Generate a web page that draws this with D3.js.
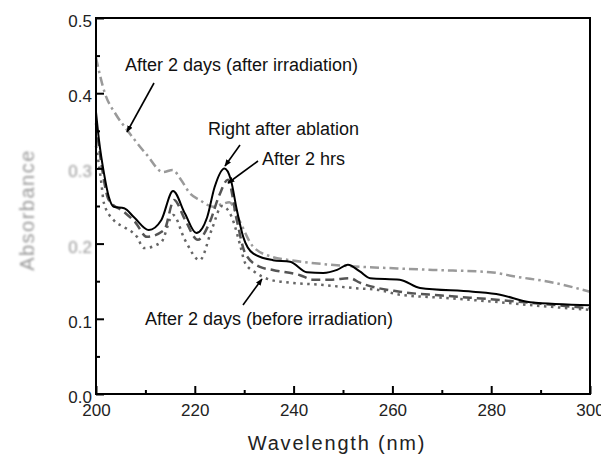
<!DOCTYPE html>
<html>
<head>
<meta charset="utf-8">
<script src="https://cdn.jsdelivr.net/npm/d3@7"></script>
<style>
  body { margin: 0; background: #fff; }
  svg { display: block; font-family: "Liberation Sans", Arial, sans-serif; }
</style>
</head>
<body>
<div id="chart"></div>
<script>
// Right after ablation (black solid)
const ablationWl = [200, 200.6, 201.6, 202.6, 203.6, 205.7, 207.7, 210.7, 213.2, 215.6, 218, 220.3, 222.5, 224, 226, 227.3, 228.5, 229.8, 231.8, 235.8, 239.3, 242.7, 246, 248.8, 251, 253.4, 255.5, 261.5, 265.6, 276.3, 281.8, 287.9, 300];
const ablationAbs = [0.375, 0.338, 0.294, 0.262, 0.249, 0.247, 0.235, 0.218, 0.231, 0.270, 0.240, 0.214, 0.235, 0.275, 0.300, 0.285, 0.245, 0.209, 0.187, 0.178, 0.176, 0.162, 0.161, 0.165, 0.172, 0.163, 0.154, 0.152, 0.141, 0.136, 0.132, 0.122, 0.118];

// After 2 hrs (dashed)
const hrsWl = [200, 201, 202.6, 205.7, 208, 210.3, 213.8, 215.8, 218, 220.6, 223, 225, 226.7, 228.5, 230.2, 233.2, 235.8, 241.3, 244, 247.4, 251.4, 253.4, 261.5, 270, 281.8, 290, 300];
const hrsAbs = [0.36, 0.31, 0.258, 0.242, 0.228, 0.209, 0.218, 0.258, 0.232, 0.205, 0.228, 0.265, 0.285, 0.231, 0.187, 0.169, 0.165, 0.158, 0.152, 0.152, 0.154, 0.148, 0.136, 0.131, 0.125, 0.12, 0.114];

// After 2 days, before irradiation (dotted)
const beforeWl = [200, 201, 201.6, 203.6, 205.7, 208.3, 209.7, 213.2, 215.6, 218, 221, 223.5, 225.5, 227.5, 229.1, 230.2, 232.2, 235.2, 239.3, 246, 252, 257.5, 261.5, 270, 281.8, 290, 300];
const beforeAbs = [0.33, 0.285, 0.254, 0.231, 0.222, 0.209, 0.194, 0.202, 0.238, 0.205, 0.178, 0.22, 0.25, 0.235, 0.2, 0.174, 0.162, 0.152, 0.148, 0.145, 0.141, 0.138, 0.132, 0.128, 0.122, 0.117, 0.112];

// After 2 days, after irradiation (dash-dot)
const afterWl = [200, 201.8, 204, 206.3, 210.3, 213.6, 215.5, 217.2, 219, 221, 223.7, 225.3, 227, 229, 231.8, 235.8, 239.3, 247.4, 254, 261, 268.2, 279.8, 285, 291.9, 300];
const afterAbs = [0.447, 0.4, 0.372, 0.351, 0.318, 0.295, 0.298, 0.285, 0.267, 0.258, 0.249, 0.252, 0.255, 0.231, 0.196, 0.182, 0.178, 0.172, 0.169, 0.167, 0.165, 0.162, 0.156, 0.149, 0.136];

const xTicks = [200, 220, 240, 260, 280, 300];
const xMinor = [210, 230, 250, 270, 290];
const yTicks = [0.0, 0.1, 0.2, 0.3, 0.4, 0.5];
const yMinor = [0.05, 0.15, 0.25, 0.35, 0.45];

const w = 601, h = 463;
const plotLeft = 96, plotRight = 590, plotTop = 18, plotBottom = 394;

const svg = d3.select("#chart").append("svg")
  .attr("width", w)
  .attr("height", h);

const defs = svg.append("defs");
defs.append("filter").attr("id", "blur")
  .attr("x", "-50%").attr("y", "-50%").attr("width", "200%").attr("height", "200%")
  .append("feGaussianBlur").attr("stdDeviation", 1.3);
defs.append("marker")
  .attr("id", "arrow")
  .attr("viewBox", "0 0 10 10")
  .attr("refX", 9).attr("refY", 5)
  .attr("markerWidth", 7).attr("markerHeight", 7)
  .attr("markerUnits", "userSpaceOnUse")
  .attr("orient", "auto")
  .append("path").attr("d", "M0,1 L10,5 L0,9 Z").attr("fill", "#000");

const x = d3.scaleLinear().domain([200, 300]).range([plotLeft, plotRight]);
const y = d3.scaleLinear().domain([0, 0.5]).range([plotBottom, plotTop]);

const line = d3.line()
  .x(d => x(d[0]))
  .y(d => y(d[1]))
  .curve(d3.curveMonotoneX);

const series = [
  { wl: afterWl, abs: afterAbs, color: "#9a9a9a", width: 2.5, dash: "9,4,2.5,4" },
  { wl: beforeWl, abs: beforeAbs, color: "#666", width: 2.5, dash: "2.5,4.5" },
  { wl: hrsWl, abs: hrsAbs, color: "#555", width: 2.5, dash: "9,5" },
  { wl: ablationWl, abs: ablationAbs, color: "#000", width: 2, dash: null }
];

svg.selectAll("path.spectrum")
  .data(series)
  .enter().append("path")
  .attr("class", "spectrum")
  .attr("fill", "none")
  .attr("stroke", d => d.color)
  .attr("stroke-width", d => d.width)
  .attr("stroke-dasharray", d => d.dash)
  .attr("d", d => line(d.wl.map((v, i) => [v, d.abs[i]])));

// axes (ticks point inward)
const xAxis = svg.append("g")
  .attr("transform", `translate(0,${plotBottom})`)
  .call(d3.axisBottom(x).tickValues(xTicks).tickSizeInner(-8).tickSizeOuter(0).tickPadding(10).tickFormat(d3.format("d")));
svg.append("g")
  .attr("transform", `translate(0,${plotBottom})`)
  .call(d3.axisBottom(x).tickValues(xMinor).tickSizeInner(-4).tickSizeOuter(0).tickFormat(""));

const yAxis = svg.append("g")
  .attr("transform", `translate(${plotLeft},0)`)
  .call(d3.axisLeft(y).tickValues(yTicks).tickSizeInner(-8).tickSizeOuter(0).tickPadding(4).tickFormat(d3.format(".1f")));
svg.append("g")
  .attr("transform", `translate(${plotLeft},0)`)
  .call(d3.axisLeft(y).tickValues(yMinor).tickSizeInner(-4).tickSizeOuter(0).tickFormat(""));

svg.selectAll(".domain").remove();
svg.selectAll(".tick line").attr("stroke", "#000").attr("stroke-width", 2);
xAxis.selectAll("text").attr("font-size", 17).attr("fill", "#222")
  .attr("font-family", "Liberation Sans, Arial, sans-serif");
yAxis.selectAll("text").attr("font-size", 17).attr("fill", "#222").attr("dy", "0.5em")
  .attr("font-family", "Liberation Sans, Arial, sans-serif");
yAxis.selectAll(".tick text")
  .filter(d => d === 0.2 || d === 0.3)
  .attr("fill", "#999")
  .attr("filter", "url(#blur)");

// frame
svg.append("rect")
  .attr("x", plotLeft).attr("y", plotTop)
  .attr("width", plotRight - plotLeft).attr("height", plotBottom - plotTop)
  .attr("fill", "none").attr("stroke", "#000").attr("stroke-width", 2);

// axis titles
svg.append("text")
  .attr("x", (plotLeft + plotRight) / 2 - 6).attr("y", 450)
  .attr("text-anchor", "middle")
  .attr("font-size", 20).attr("letter-spacing", 1.8).attr("fill", "#222")
  .text("Wavelength (nm)");

svg.append("text")
  .attr("transform", "translate(34,210) rotate(-90)")
  .attr("text-anchor", "middle")
  .attr("font-size", 20).attr("letter-spacing", 1.5).attr("fill", "#999")
  .attr("filter", "url(#blur)")
  .text("Absorbance");

// annotations
const notes = [
  { text: "After 2 days (after irradiation)", tx: 125, ty: 71, from: [154, 83], to: [127, 132] },
  { text: "Right after ablation", tx: 208, ty: 135, from: [240, 145], to: [225, 166] },
  { text: "After 2 hrs", tx: 262, ty: 165, from: [258, 161], to: [228, 183] },
  { text: "After 2 days (before irradiation)", tx: 145, ty: 325, from: [243, 305], to: [262, 279] }
];

notes.forEach(n => {
  svg.append("text")
    .attr("x", n.tx).attr("y", n.ty)
    .attr("font-size", 18).attr("fill", "#111")
    .text(n.text);
  svg.append("line")
    .attr("x1", n.from[0]).attr("y1", n.from[1])
    .attr("x2", n.to[0]).attr("y2", n.to[1])
    .attr("stroke", "#000").attr("stroke-width", 1.6)
    .attr("marker-end", "url(#arrow)");
});
</script>
</body>
</html>
